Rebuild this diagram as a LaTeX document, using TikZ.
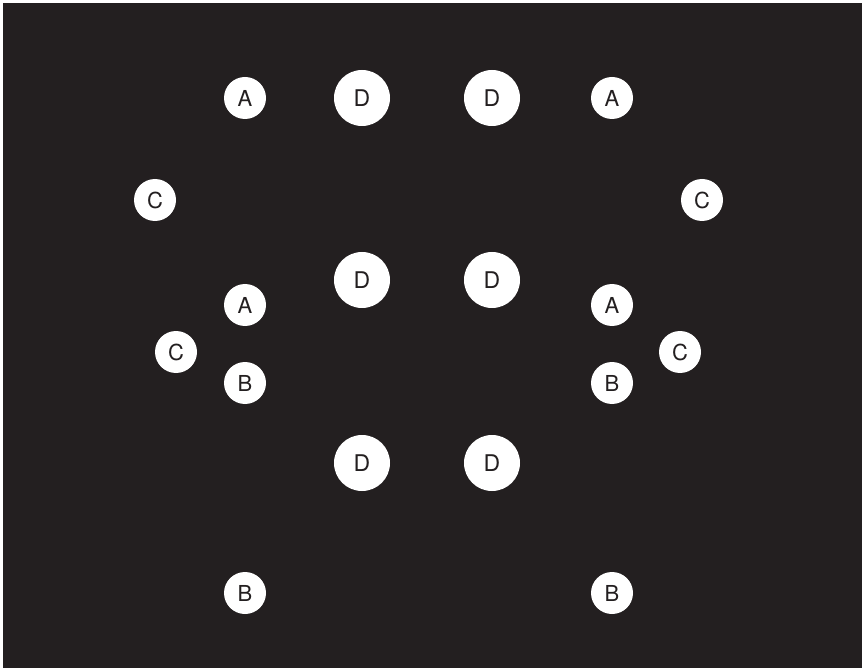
\documentclass[tikz,border=0pt]{standalone}
\usepackage{fontspec}
\setmainfont{TeX Gyre Heros}
\definecolor{boardDark}{RGB}{35,31,32}
\tikzset{
  small spot/.style={circle,fill=white,draw=none,inner sep=0pt,minimum size=42pt,text=boardDark,font=\fontsize{22}{22}\selectfont},
  large spot/.style={circle,fill=white,draw=none,inner sep=0pt,minimum size=56pt,text=boardDark,font=\fontsize{23}{23}\selectfont}
}
\begin{document}
\begin{tikzpicture}[x=1pt,y=-1pt]
    \fill[white] (0,0) rectangle (862,668);
    \fill[boardDark] (3,3) rectangle (862,668);
    \useasboundingbox (0,0) rectangle (862,668);
    % outer row
    \node[small spot] (a1) at (245,98) {A};
    \node[large spot] (d1) at (362,98) {D};
    \node[large spot] (d2) at (492,98) {D};
    \node[small spot] (a2) at (612,98) {A};
    \node[small spot] (c1) at (155,200) {C};
    \node[small spot] (c2) at (702,200) {C};
    % middle block
    \node[large spot] (d3) at (362,280) {D};
    \node[large spot] (d4) at (492,280) {D};
    \node[small spot] (a3) at (245,305) {A};
    \node[small spot] (a4) at (612,305) {A};
    \node[small spot] (c3) at (176,352) {C};
    \node[small spot] (c4) at (680,352) {C};
    \node[small spot] (b1) at (245,383) {B};
    \node[small spot] (b2) at (612,383) {B};
    \node[large spot] (d5) at (362,463) {D};
    \node[large spot] (d6) at (492,463) {D};
    % bottom row
    \node[small spot] (b3) at (245,593) {B};
    \node[small spot] (b4) at (612,593) {B};
\end{tikzpicture}
\end{document}
